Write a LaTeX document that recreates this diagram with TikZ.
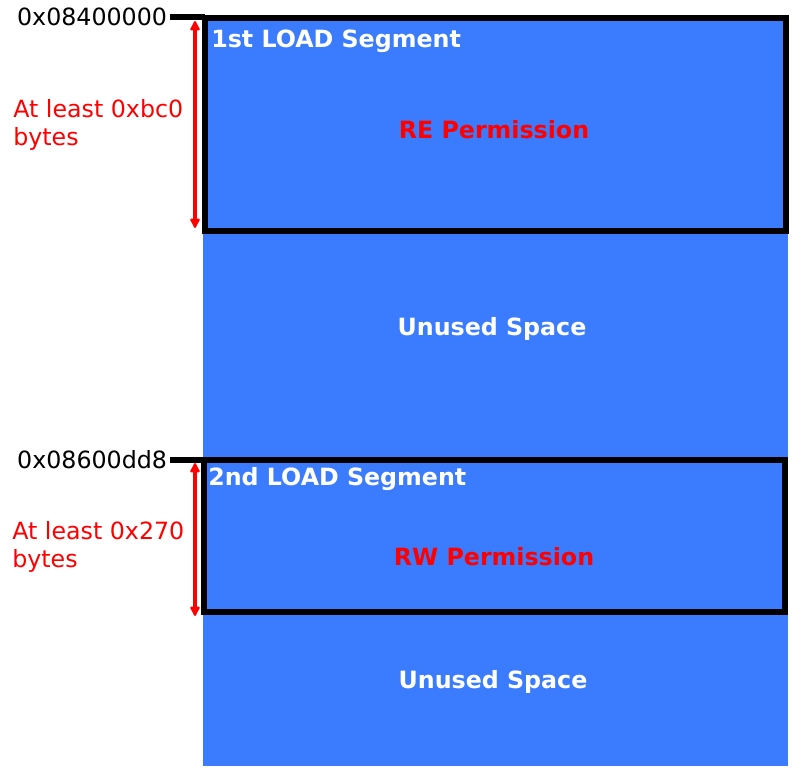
\documentclass[tikz,border=0pt]{standalone}
\usepackage{fontspec}
\setmainfont{DejaVu Sans}
\usetikzlibrary{arrows.meta}
\definecolor{memblue}{RGB}{59,124,255}

\begin{document}
\begin{tikzpicture}[x=0.75pt,y=-0.75pt,
    seg/.style={line width=3.8pt},
    addr/.style={anchor=east,inner sep=2pt,font=\fontsize{17.8}{21}\selectfont},
    note/.style={anchor=north west,align=left,inner sep=0pt,text=red,
      font=\fontsize{17.8}{21}\selectfont},
    title/.style={anchor=west,inner sep=0pt,text=white,
      font=\fontsize{17.8}{21}\selectfont\bfseries},
    perm/.style={text=red,font=\fontsize{17.8}{21}\selectfont\bfseries},
    unused/.style={text=white,font=\fontsize{17.8}{21}\selectfont\bfseries},
    span/.style={red,line width=3.4pt,
      {Latex[length=9pt,width=9pt,round]}-{Latex[length=9pt,width=9pt,round]}}]
  \useasboundingbox (0,0) rectangle (804,778);

  % memory area
  \fill[memblue] (203,17) rectangle (788,766);

  % 1st LOAD segment
  \coordinate (s1a) at (205,18);
  \coordinate (s1b) at (786,231);
  \draw[seg] (s1a) rectangle (s1b);
  \node[title] (t1) at (211,41) {1st LOAD Segment};
  \node[perm]  (p1) at (494,130) {RE Permission};
  \node[unused] (u1) at (492,329) {Unused Space};

  % 2nd LOAD segment
  \coordinate (s2a) at (204,460);
  \coordinate (s2b) at (785,612);
  \draw[seg] (s2a) rectangle (s2b);
  \node[title] (t2) at (208,479) {2nd LOAD Segment};
  \node[perm]  (p2) at (494,557) {RW Permission};
  \node[unused] (u2) at (493,682) {Unused Space};

  % addresses
  \node[addr] (a1) at (170,17)  {0x08400000};
  \node[addr] (a2) at (170,460) {0x08600dd8};
  \draw[seg] (a1.east) -- (a1.east -| s1a);
  \draw[seg] (a2.east) -- (a2.east -| s2a);

  % sizes
  \coordinate (h1) at (195,21);
  \coordinate (l1) at (195,228);
  \coordinate (h2) at (195,463);
  \coordinate (l2) at (195,616);
  \draw[span] (h1) -- (l1);
  \draw[span] (h2) -- (l2);
  \node[note] (n1) at (13,99)  {At least 0xbc0\\bytes};
  \node[note] (n2) at (12,521) {At least 0x270\\bytes};
\end{tikzpicture}
\end{document}
